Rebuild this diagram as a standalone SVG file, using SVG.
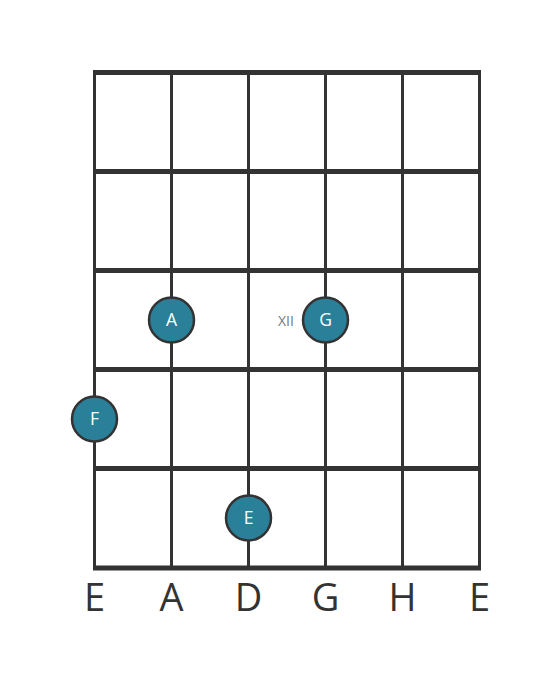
<svg xmlns="http://www.w3.org/2000/svg" width="560" height="682" viewBox="0 0 560 682">
<style>
.str{stroke:#333;stroke-width:3;}
.fret{stroke:#333;stroke-width:5;}
.dot{fill:#2a7f99;stroke:#333;stroke-width:2.5;}
.dt{font-family:"Open Sans",sans-serif;font-size:17.5px;fill:#fff;text-anchor:middle;}
.sn{font-family:"Open Sans",sans-serif;font-size:38px;fill:#333;text-anchor:middle;}
.pos{font-family:"Open Sans",sans-serif;font-size:14px;fill:#777;text-anchor:middle;}
</style>
<rect width="560" height="682" fill="#fff"/>
<g id="grid">
<line class="str" x1="94.5" y1="72" x2="94.5" y2="568"/>
<line class="str" x1="171.5" y1="72" x2="171.5" y2="568"/>
<line class="str" x1="248.5" y1="72" x2="248.5" y2="568"/>
<line class="str" x1="325.5" y1="72" x2="325.5" y2="568"/>
<line class="str" x1="402.5" y1="72" x2="402.5" y2="568"/>
<line class="str" x1="479.5" y1="72" x2="479.5" y2="568"/>
<line class="fret" x1="93" y1="72.5" x2="481" y2="72.5"/>
<line class="fret" x1="93" y1="171.5" x2="481" y2="171.5"/>
<line class="fret" x1="93" y1="270.5" x2="481" y2="270.5"/>
<line class="fret" x1="93" y1="369.5" x2="481" y2="369.5"/>
<line class="fret" x1="93" y1="468.5" x2="481" y2="468.5"/>
<line class="fret" x1="93" y1="568" x2="481" y2="568"/>
</g>
<text class="pos" x="286" y="326">XII</text>
<g id="nA"><circle class="dot" cx="171.5" cy="320" r="22.5"/><text class="dt" x="171.5" y="326">A</text></g>
<g id="nG"><circle class="dot" cx="325.5" cy="320" r="22.5"/><text class="dt" x="325.5" y="326">G</text></g>
<g id="nF"><circle class="dot" cx="94.5" cy="419" r="22.5"/><text class="dt" x="94.5" y="425">F</text></g>
<g id="nE"><circle class="dot" cx="248.5" cy="518" r="22.5"/><text class="dt" x="248.5" y="524">E</text></g>
<g id="labels">
<text class="sn" x="94.5" y="611">E</text>
<text class="sn" x="171.5" y="611">A</text>
<text class="sn" x="248.5" y="611">D</text>
<text class="sn" x="325.5" y="611">G</text>
<text class="sn" x="402.5" y="611">H</text>
<text class="sn" x="479.5" y="611">E</text>
</g>
</svg>
